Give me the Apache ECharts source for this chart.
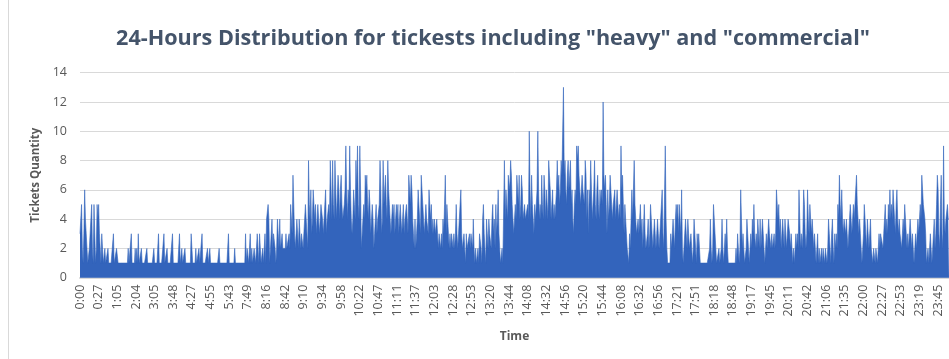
<!DOCTYPE html>
<html>
<head>
<meta charset="utf-8">
<script src="https://cdn.jsdelivr.net/npm/echarts@6/dist/echarts.min.js"></script>
<style>
  html, body { margin: 0; padding: 0; background: #ffffff; }
  #chart { width: 949px; height: 359px; }
</style>
</head>
<body>
<div id="chart"></div>
<script>
// Time labels shown on the x axis, one for every 24 recorded minutes
const tickLabels = [
  '0:00', '0:27', '1:05', '2:04', '3:05', '3:48', '4:27', '4:55', '5:43', '7:49',
  '8:16', '8:42', '9:10', '9:34', '9:58', '10:22', '10:47', '11:11', '11:37', '12:03',
  '12:28', '12:53', '13:20', '13:44', '14:08', '14:32', '14:56', '15:20', '15:44', '16:08',
  '16:32', '16:56', '17:21', '17:51', '18:18', '18:48', '19:17', '19:45', '20:11', '20:42',
  '21:06', '21:35', '22:00', '22:27', '22:53', '23:19', '23:45'
];
const minutesPerLabel = 24;

// Tickets per recorded minute (one row per labelled block)
const ticketCounts = [
  3,4,5,2,1,3,6,4,3,2,1,1,2,3,4,5,2,1,5,3,1,2,5,4,
  5,3,2,1,3,3,1,1,2,1,1,1,2,1,1,1,1,1,1,3,1,1,1,2,
  2,1,1,1,1,1,1,1,1,1,1,1,1,1,2,1,1,1,3,1,1,1,1,2,
  1,2,1,3,1,1,1,2,1,1,1,1,1,1,2,1,1,1,1,1,1,1,1,2,
  1,1,1,1,1,3,1,1,1,1,1,1,3,1,1,1,2,1,1,1,1,1,1,3,
  1,1,1,1,1,1,1,1,3,1,1,2,1,1,1,2,1,1,1,1,1,1,1,3,
  2,1,1,1,1,2,1,1,1,2,1,1,1,3,1,1,1,1,1,1,2,1,1,2,
  1,1,1,1,1,1,1,1,1,1,1,2,1,1,1,1,1,1,1,1,1,1,1,3,
  1,1,1,1,1,1,1,2,1,1,1,1,1,1,1,1,1,1,1,1,1,3,1,2,
  2,1,2,3,1,2,1,1,2,2,1,2,3,2,1,3,2,1,1,2,1,2,3,1,
  4,4,5,4,1,1,3,4,2,3,3,2,1,2,4,3,2,4,2,2,3,2,2,2,
  2,3,2,2,2,3,2,5,4,3,7,5,3,2,3,4,3,2,4,3,2,3,3,2,
  3,4,5,4,3,2,8,5,4,6,3,4,6,5,4,5,3,4,5,4,3,4,5,5,
  4,3,4,5,6,3,4,4,5,4,8,6,4,8,5,4,8,6,4,4,7,6,4,6,
  7,5,4,4,5,6,9,6,4,6,5,9,6,4,3,4,6,5,4,8,6,9,5,4,
  9,6,2,3,4,5,4,7,6,7,5,4,6,5,3,4,5,4,2,3,4,5,3,4,
  4,5,8,6,3,4,8,5,6,7,5,4,8,6,5,4,3,4,5,4,5,3,4,5,
  4,5,3,4,5,4,3,4,5,3,4,4,5,4,3,7,6,5,7,6,4,3,2,4,
  2,3,4,6,5,4,3,7,6,5,4,3,4,5,4,4,3,6,5,4,5,3,4,3,
  4,3,3,4,3,2,3,3,2,3,2,4,3,5,7,3,5,4,3,2,3,2,3,3,
  2,3,2,3,5,3,2,3,4,5,6,3,2,2,3,2,1,3,2,2,2,3,2,3,
  3,2,4,2,1,2,1,1,2,1,3,3,2,1,4,5,3,2,1,4,3,2,4,3,
  3,2,4,5,3,4,2,5,3,4,6,3,2,1,1,2,1,1,8,4,6,5,4,7,
  7,6,8,7,5,4,3,4,5,4,7,6,5,7,4,5,7,6,4,4,5,4,4,4,
  5,4,10,6,4,7,5,4,3,5,4,4,6,10,6,4,5,4,7,5,4,7,6,4,
  6,5,4,8,7,6,4,5,6,4,5,4,5,6,8,6,7,5,6,8,7,10,13,7,
  8,6,5,7,8,6,7,8,5,6,4,3,5,6,5,9,8,9,7,6,5,6,7,6,
  6,5,8,7,4,6,3,6,5,8,6,4,5,6,8,5,4,6,7,5,4,6,5,6,
  5,12,7,6,7,5,3,6,4,5,7,6,5,4,5,5,6,4,5,6,5,4,5,4,
  9,6,7,5,3,5,4,3,2,2,1,3,2,2,6,4,6,8,5,4,3,3,4,3,
  3,5,3,4,2,2,5,3,2,2,3,4,2,3,5,4,3,2,3,4,3,2,3,4,
  3,2,3,4,5,6,3,2,2,9,4,2,1,1,1,1,3,2,3,4,3,2,4,5,
  4,5,3,5,4,3,6,2,1,2,3,4,3,2,4,3,2,2,3,2,1,2,4,3,
  2,1,3,2,3,2,1,1,1,1,1,1,1,1,1,1,1,1,2,4,2,1,2,5,
  5,3,2,1,1,1,2,1,1,2,4,2,1,2,3,2,4,2,1,1,1,1,1,1,
  1,1,1,1,2,1,3,2,1,2,6,4,2,3,2,1,1,2,4,3,2,1,2,3,
  2,4,3,5,3,2,3,2,4,3,2,4,2,3,4,3,2,1,2,3,2,3,4,3,
  3,2,3,2,2,3,2,3,6,5,4,5,3,4,2,3,4,3,2,4,3,2,3,4,
  4,3,2,3,2,1,2,1,2,3,2,3,2,6,4,2,3,2,3,6,5,3,2,3,
  6,4,3,5,4,3,4,3,2,3,2,1,2,3,1,2,1,1,2,1,2,2,1,2,
  2,1,2,4,3,2,1,3,4,2,1,3,2,3,2,5,4,7,5,4,6,4,3,4,
  4,3,4,3,2,3,4,5,4,3,4,5,4,5,6,7,5,4,3,4,3,2,1,1,
  3,5,4,3,2,4,3,2,3,4,2,2,1,2,2,1,2,2,1,2,3,2,3,3,
  3,2,3,4,5,3,4,3,5,4,6,4,5,4,6,5,4,3,5,6,4,3,4,3,
  3,2,3,4,3,5,4,3,2,3,2,2,4,3,2,3,2,1,2,3,2,3,4,3,
  4,5,4,7,6,5,5,4,3,1,1,2,1,1,3,2,1,2,3,4,2,3,5,7,
  6,3,2,5,7,3,2,9,4,3,4,4,5,4,4
];

const yTicks = { min: 0, max: 14, step: 2 };

const slots = ticketCounts.map((_, i) => String(i));

const chart = echarts.init(document.getElementById('chart'), null, { renderer: 'canvas' });

const labelFont = '"Open Sans", "Noto Sans", sans-serif';

chart.setOption({
  animation: false,
  backgroundColor: '#ffffff',
  title: {
    text: '24-Hours Distribution for tickests including "heavy" and "commercial"',
    left: 488,
    top: 23,
    textAlign: 'center',
    textStyle: {
      fontFamily: labelFont,
      fontWeight: 'bold',
      fontSize: 21.6,
      color: '#44546A'
    }
  },
  graphic: [{
    type: 'rect',
    silent: true,
    shape: { x: 8.5, y: -10, width: 1000, height: 400 },
    style: { fill: 'none', stroke: '#D9D9D9', lineWidth: 1 }
  }],
  grid: { left: 80, right: 0, top: 72.7, bottom: 81.3, containLabel: false },
  xAxis: {
    type: 'category',
    data: slots,
    boundaryGap: false,
    name: 'Time',
    nameLocation: 'middle',
    nameGap: 53,
    nameTextStyle: { fontFamily: labelFont, fontWeight: 'bold', fontSize: 12, color: '#595959' },
    axisLine: { show: true, lineStyle: { color: '#D9D9D9', width: 2 } },
    axisTick: { show: false },
    axisLabel: {
      interval: minutesPerLabel - 1,
      rotate: 90,
      margin: 7,
      fontFamily: labelFont,
      fontSize: 12.5,
      color: '#595959',
      formatter: (v, idx) => tickLabels[Math.round(idx / minutesPerLabel)] || ''
    },
    splitLine: { show: false }
  },
  yAxis: {
    type: 'value',
    min: yTicks.min,
    max: yTicks.max,
    interval: yTicks.step,
    name: 'Tickets Quantity',
    nameLocation: 'middle',
    nameGap: 32,
    nameRotate: 90,
    nameTextStyle: { fontFamily: labelFont, fontWeight: 'bold', fontSize: 11.5, color: '#595959' },
    axisLine: { show: false },
    axisTick: { show: false },
    axisLabel: { margin: 13, fontFamily: labelFont, fontSize: 12.5, color: '#595959' },
    splitLine: { lineStyle: { color: '#D9D9D9', width: 1 } }
  },
  series: [{
    type: 'line',
    data: ticketCounts,
    showSymbol: false,
    symbol: 'none',
    sampling: null,
    lineStyle: { color: '#3364BC', width: 0.6 },
    areaStyle: { color: '#3364BC', opacity: 1 },
    itemStyle: { color: '#3364BC' }
  }]
});
</script>
</body>
</html>
